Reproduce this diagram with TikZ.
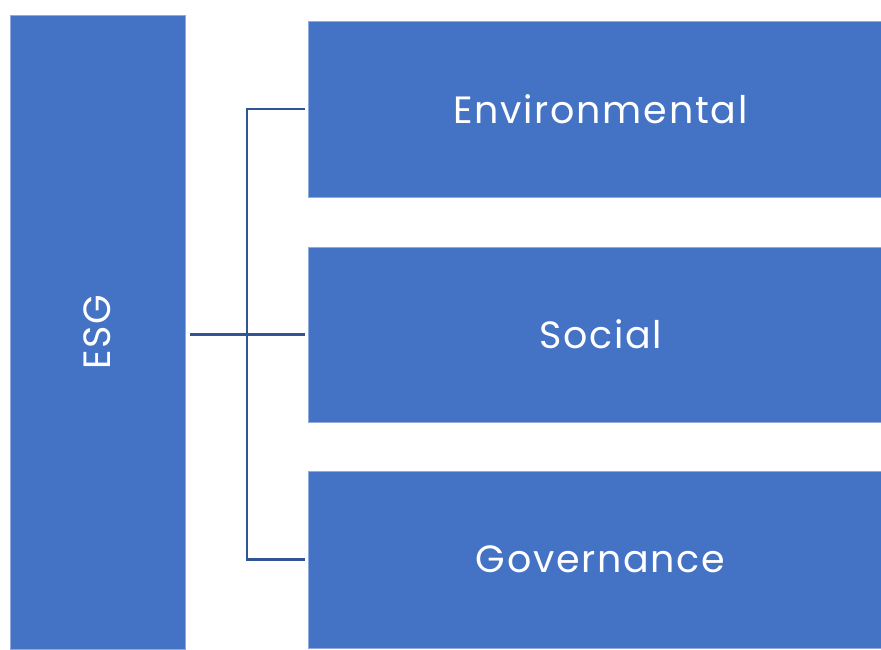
\documentclass[tikz,border=0pt]{standalone}
\usepackage{fontspec}
\setmainfont{Poppins}[LetterSpace=4.5]
\definecolor{esgblue}{HTML}{4472C4}
\definecolor{esgline}{HTML}{2F5597}
\tikzset{
  block/.style={fill=esgblue, draw=esgblue!60!white, line width=0.6pt, text=white,
    inner sep=0pt, font=\fontsize{38}{44}\selectfont},
  branch/.style={draw=esgline, line width=2.3pt}
}
\begin{document}
\begin{tikzpicture}[x=1pt,y=-1pt]
                    \useasboundingbox (0,0) rectangle (881,649);
                    \begin{scope}
                    \clip (0,0) rectangle (881,649);
                    % left block
                    \node[block, minimum width=175pt, minimum height=634pt] (esg) at (97.5,332) {};
                    \node[text=white, rotate=90, font=\fontsize{38}{44}\selectfont] (esglabel) at (esg.center) {ESG};
                    % right blocks
                    \node[block, minimum width=585pt, minimum height=176pt] (env) at (600.5,109) {Environmental};
                    \node[block, minimum width=585pt, minimum height=175pt] (soc) at (600.5,334.5) {Social};
                    \node[block, minimum width=585pt, minimum height=177pt] (gov) at (600.5,559.5) {Governance};
                    \end{scope}

                    \coordinate (hub) at (247,334.5);
                    \draw[branch, line width=3pt, shorten <=5pt] (esg.east |- hub) -- (hub);
                    \draw[branch, shorten >=3pt] (hub) -- (soc.west);
                    \draw[branch, shorten >=3pt] (hub) |- (env.west);
                    \draw[branch, shorten >=3pt] (hub) |- (gov.west);
\end{tikzpicture}
\end{document}
